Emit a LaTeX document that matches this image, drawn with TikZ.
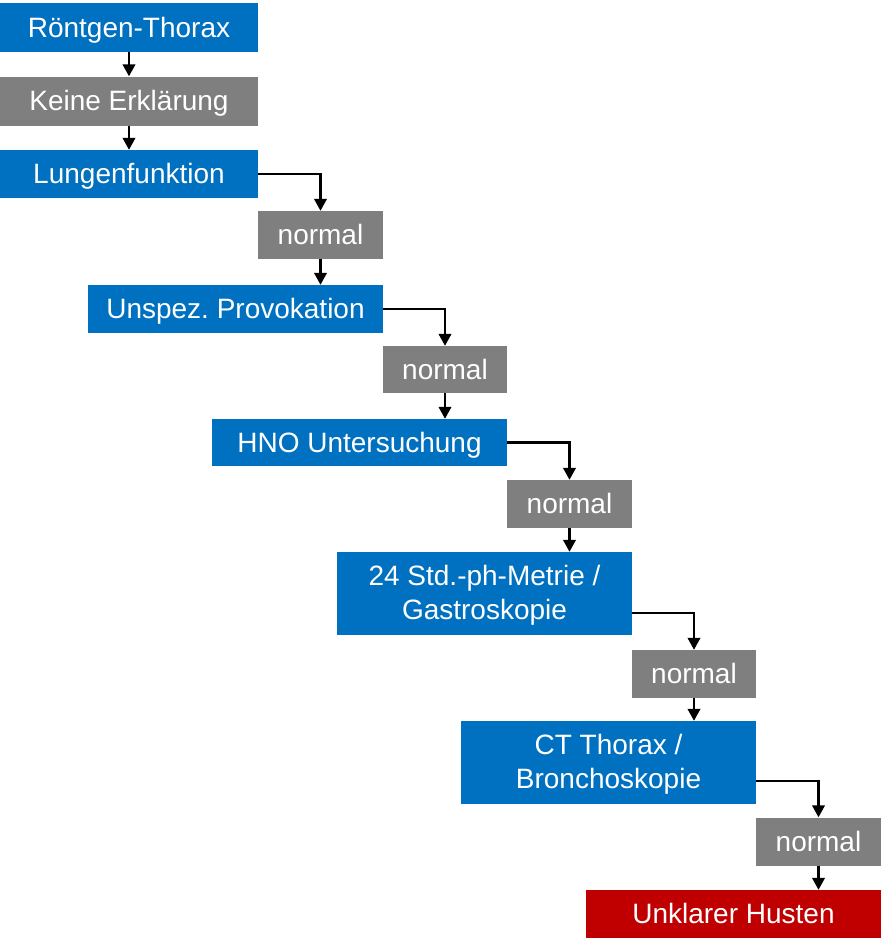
\documentclass[tikz,border=0pt]{standalone}
\usepackage{fontspec}
\setmainfont{Liberation Sans}
\usetikzlibrary{arrows.meta}
\definecolor{bblue}{HTML}{0070C0}
\definecolor{bgray}{HTML}{7F7F7F}
\definecolor{bred}{HTML}{C00000}
\frenchspacing
\begin{document}
\begin{tikzpicture}[x=1pt,y=-1pt,
  box/.style={draw=none,inner sep=0pt,text=white,
    font=\fontsize{28}{34}\selectfont\frenchspacing,
    text height=25.3pt,text depth=5.9pt},
  twoline/.style={text height=24pt,text depth=41pt},
  bluebox/.style={box,fill=bblue,minimum width=295pt,minimum height=48pt},
  graybox/.style={box,fill=bgray,minimum width=125pt,minimum height=48pt},
  conn/.style={line width=2.4pt,-{Triangle[width=12.5pt,length=12pt]}}]
\useasboundingbox (0,0) rectangle (881,948);
\node[bluebox,minimum width=258pt,minimum height=49pt] (b1) at (129,27.5) {Röntgen-Thorax};
\node[graybox,minimum width=258pt,minimum height=49pt] (b2) at (129,101) {Keine Erklärung};
\node[bluebox,minimum width=258pt] (b3) at (129,174) {Lungenfunktion};
\node[graybox] (n1) at (320.5,235) {normal};
\node[bluebox] (b5) at (235.5,309) {Unspez. Provokation};
\node[graybox,minimum width=124pt,minimum height=47pt] (n2) at (445,369.5) {normal};
\node[bluebox,minimum height=47pt] (b7) at (359.5,442.5) {HNO Untersuchung};
\node[graybox] (n3) at (569.5,504) {normal};
\node[bluebox,twoline,minimum height=83pt] (b9) at (484.5,593.5)
  {\begin{tabular}[t]{@{}c@{}}24 Std.-ph-Metrie /\\Gastroskopie\end{tabular}};
\node[graybox,minimum width=124pt] (n4) at (694,674) {normal};
\node[bluebox,twoline,minimum height=83pt] (b11) at (608.5,762.5)
  {\begin{tabular}[t]{@{}c@{}}CT Thorax /\\Bronchoskopie\end{tabular}};
\node[graybox] (n5) at (818.5,841.5) {normal};
\node[bluebox,fill=bred] (b13) at (733.5,914) {Unklarer Husten};

\draw[conn] (b1.south) -- (b2.north);
\draw[conn] (b2.south) -- (b3.north);
\draw[conn] (b3.east) -| (n1.north);
\draw[conn] (n1.south) -- (n1.south |- b5.north);
\draw[conn] (b5.east) -| (n2.north);
\draw[conn] (n2.south) -- (n2.south |- b7.north);
\draw[conn] (b7.east) -| (n3.north);
\draw[conn] (n3.south) -- (n3.south |- b9.north);
\draw[conn] ([yshift=-19.5pt]b9.east) -| (n4.north);
\draw[conn] (n4.south) -- (n4.south |- b11.north);
\draw[conn] ([yshift=-18.5pt]b11.east) -| (n5.north);
\draw[conn] (n5.south) -- (n5.south |- b13.north);
\end{tikzpicture}
\end{document}
